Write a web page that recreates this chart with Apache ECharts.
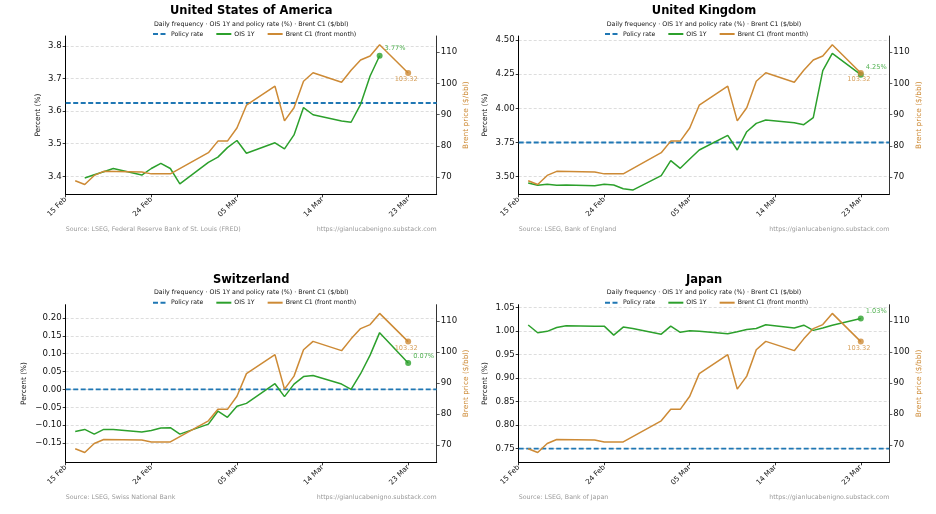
<!DOCTYPE html>
<html><head><meta charset="utf-8">
<script src="https://cdn.jsdelivr.net/npm/echarts@6/dist/echarts.min.js"></script>
<style>html,body{margin:0;padding:0;background:#fff}#c{width:936px;height:514px}</style>
</head><body><div id="c"></div>
<script>
// ---- shared x axis (days after 15 Feb) ----
const tickDays = [0, 9, 18, 27, 36];
const dayLabels = ['15 Feb', '24 Feb', '05 Mar', '14 Mar', '23 Mar'];

// ---- Brent C1 (front month), $/bbl ----
const brentDays = [1,2,3,4,8,9,11,15,16,17,18,19,22,23,24,25,26,29,30,31,32,33,36];
const brent = [68.8,67.6,70.5,71.8,71.6,71.0,71.0,77.8,81.5,81.5,85.7,93.0,99.1,88.0,92.2,100.7,103.4,100.4,104.2,107.5,108.8,112.4,103.32];
const brentTicks = [70, 80, 90, 100, 110];
const brentTickLabels = ['70', '80', '90', '100', '110'];

// ---- OIS 1Y per country ----
const usOisDays = [2,3,4,5,8,9,10,11,12,15,16,17,18,19,22,23,24,25,26,29,30,31,32,33];
const usOis = [3.395,3.405,3.414,3.424,3.404,3.424,3.440,3.424,3.377,3.443,3.459,3.488,3.510,3.471,3.503,3.484,3.527,3.611,3.589,3.570,3.566,3.621,3.708,3.770];
const oisDays = [1,2,3,4,5,8,9,10,11,12,15,16,17,18,19,22,23,24,25,26,29,30,31,32,33,36];
const ukOis = [3.454,3.437,3.444,3.437,3.439,3.434,3.444,3.439,3.412,3.402,3.508,3.617,3.561,3.629,3.695,3.802,3.695,3.829,3.890,3.915,3.895,3.880,3.932,4.276,4.402,4.246];
const chOis = [-0.118,-0.112,-0.125,-0.112,-0.112,-0.119,-0.115,-0.108,-0.107,-0.125,-0.097,-0.061,-0.078,-0.047,-0.039,0.016,-0.020,0.015,0.036,0.039,0.015,0.000,0.044,0.096,0.159,0.074];
const jpOis = [1.0125,0.996,0.999,1.007,1.011,1.010,1.010,0.991,1.008,1.005,0.993,1.010,0.997,1.000,0.999,0.994,0.998,1.003,1.005,1.013,1.006,1.012,1.001,1.006,1.012,1.026];

// ---- policy rates ----
const usPolicy = 3.625, ukPolicy = 3.75, chPolicy = 0.0, jpPolicy = 0.75;

// ---- left-axis ticks ----
const usTicks = [3.4, 3.5, 3.6, 3.7, 3.8];
const usTickLabels = ['3.4', '3.5', '3.6', '3.7', '3.8'];
const ukTicks = [3.5, 3.75, 4.0, 4.25, 4.5];
const ukTickLabels = ['3.50', '3.75', '4.00', '4.25', '4.50'];
const chTicks = [-0.15, -0.10, -0.05, 0.0, 0.05, 0.10, 0.15, 0.20];
const chTickLabels = ['\u22120.15', '\u22120.10', '\u22120.05', '0.00', '0.05', '0.10', '0.15', '0.20'];
const jpTicks = [0.75, 0.80, 0.85, 0.90, 0.95, 1.00, 1.05];
const jpTickLabels = ['0.75', '0.80', '0.85', '0.90', '0.95', '1.00', '1.05'];

// ---- texts ----
const countries = ['United States of America', 'United Kingdom', 'Switzerland', 'Japan'];
const subtitle = 'Daily frequency \u00b7 OIS 1Y and policy rate (%) \u00b7 Brent C1 ($/bbl)';
const sources = ['Source: LSEG, Federal Reserve Bank of St. Louis (FRED)', 'Source: LSEG, Bank of England', 'Source: LSEG, Swiss National Bank', 'Source: LSEG, Bank of Japan'];
const url = 'https://gianlucabenigno.substack.com';
const legendNames = ['Policy rate', 'OIS 1Y', 'Brent C1 (front month)'];

const FONT = 'DejaVu Sans';
const BLUE = '#1f77b4', GREEN = '#2ca02c', ORANGE = '#cd8a35';
const X_MAX = 39;

const panels = [
  {box:[65.7, 36, 371, 158.3], ymin:3.3448, ymax:3.8307, ticks:usTicks, labels:usTickLabels, days:usOisDays, ois:usOis, policy:usPolicy, nameGap:24.5, legendLeft:152},
  {box:[518.7, 36, 370.6, 158.3], ymin:3.371, ymax:4.529, ticks:ukTicks, labels:ukTickLabels, days:oisDays, ois:ukOis, policy:ukPolicy, nameGap:30, legendLeft:604},
  {box:[65.7, 304.7, 371, 157.6], ymin:-0.204, ymax:0.2373, ticks:chTicks, labels:chTickLabels, days:oisDays, ois:chOis, policy:chPolicy, nameGap:38, legendLeft:152},
  {box:[518.7, 304.7, 370.6, 157.6], ymin:0.7211, ymax:1.0555, ticks:jpTicks, labels:jpTickLabels, days:oisDays, ois:jpOis, policy:jpPolicy, nameGap:30, legendLeft:604}
];

function lookup(ticks, labels, v) {
  for (let k = 0; k < ticks.length; k++) if (Math.abs(ticks[k] - v) < 1e-9) return labels[k];
  return '';
}

const grids = [], xAxes = [], yAxes = [], series = [], titles = [], legends = [], graphics = [];
panels.forEach((p, i) => {
  const [x, y, w, h] = p.box;
  grids.push({left:x, top:y, width:w, height:h});
  xAxes.push({
    gridIndex:i, type:'value', min:0, max:X_MAX,
    axisLine:{show:true, onZero:false, lineStyle:{color:'#000', width:1}},
    axisTick:{show:true, customValues:tickDays, length:3, lineStyle:{color:'#000', width:0.8}},
    axisLabel:{customValues:tickDays, rotate:45, fontSize:7.2, color:'#111', fontFamily:FONT, margin:4,
      formatter:v => lookup(tickDays, dayLabels, v)},
    splitLine:{show:false}
  });
  yAxes.push({
    gridIndex:i, type:'value', position:'left', min:p.ymin, max:p.ymax,
    axisLine:{show:true, onZero:false, lineStyle:{color:'#000', width:1}},
    axisTick:{show:true, customValues:p.ticks, length:3, lineStyle:{color:'#000', width:0.8}},
    axisLabel:{customValues:p.ticks, fontSize:8.6, color:'#111', fontFamily:FONT, margin:4,
      formatter:v => lookup(p.ticks, p.labels, v)},
    splitLine:{show:true, lineStyle:{color:'#cfcfcf', width:0.7, type:[3, 2]}},
    name:'Percent (%)', nameLocation:'middle', nameGap:p.nameGap,
    nameTextStyle:{fontSize:7.4, color:'#111', fontFamily:FONT}
  });
  yAxes.push({
    gridIndex:i, type:'value', position:'right', min:64.45, max:115.2,
    axisLine:{show:true, onZero:false, lineStyle:{color:'#333', width:1}},
    axisTick:{show:true, customValues:brentTicks, length:3, lineStyle:{color:'#333', width:0.8}},
    axisLabel:{customValues:brentTicks, fontSize:8.6, color:'#111', fontFamily:FONT, margin:4,
      formatter:v => lookup(brentTicks, brentTickLabels, v)},
    splitLine:{show:false},
    name:'Brent price ($/bbl)', nameLocation:'middle', nameGap:26,
    nameTextStyle:{fontSize:7.4, color:ORANGE, fontFamily:FONT}
  });
  const cx = x + w / 2;
  titles.push({
    text:countries[i], subtext:subtitle, left:cx, textAlign:'center', top:y - 32, itemGap:2, padding:0,
    textStyle:{fontSize:11.5, fontWeight:'bold', color:'#000', fontFamily:FONT, lineHeight:14},
    subtextStyle:{fontSize:6.3, color:'#111', fontFamily:FONT, lineHeight:8}
  });
  legends.push({
    data:legendNames, left:p.legendLeft, top:y - 5, itemWidth:15, itemHeight:6, itemGap:12, padding:0,
    itemStyle:{opacity:0},
    textStyle:{fontSize:6.2, color:'#111', fontFamily:FONT, padding:[0, 0, 0, -2]}
  });
  series.push({
    name:'Policy rate', type:'line', xAxisIndex:i, yAxisIndex:2 * i, symbol:'none', silent:true,
    data:[[0, p.policy], [X_MAX, p.policy]],
    lineStyle:{color:BLUE, width:1.8, type:[5, 2.5]}, itemStyle:{color:BLUE}, z:2
  });
  series.push({
    name:'OIS 1Y', type:'line', xAxisIndex:i, yAxisIndex:2 * i, symbol:'none',
    data:p.days.map((d, k) => [d, p.ois[k]]),
    lineStyle:{color:GREEN, width:1.5}, itemStyle:{color:GREEN}, z:3
  });
  series.push({
    name:'Brent C1 (front month)', type:'line', xAxisIndex:i, yAxisIndex:2 * i + 1, symbol:'none',
    data:brentDays.map((d, k) => [d, brent[k]]),
    lineStyle:{color:ORANGE, width:1.5}, itemStyle:{color:ORANGE}, z:4
  });
  const lastO = p.days.length - 1;
  series.push({
    type:'scatter', xAxisIndex:i, yAxisIndex:2 * i, symbolSize:6, z:5,
    data:[[p.days[lastO], p.ois[lastO]]], itemStyle:{color:GREEN},
    label:{show:true, position:'right', distance:2, offset:[0, -7], color:GREEN, fontSize:6.6, fontFamily:FONT,
      formatter:prm => prm.value[1].toFixed(2) + '%'}
  });
  const lastB = brentDays.length - 1;
  series.push({
    type:'scatter', xAxisIndex:i, yAxisIndex:2 * i + 1, symbolSize:6, z:5,
    data:[[brentDays[lastB], brent[lastB]]], itemStyle:{color:ORANGE},
    label:{show:true, position:'bottom', distance:1, offset:[-2, -1], color:ORANGE, fontSize:6.6, fontFamily:FONT,
      formatter:prm => prm.value[1].toFixed(2)}
  });
  const fy = y + h + 32.5;
  graphics.push({type:'text', left:x, top:fy, style:{text:sources[i], fill:'#999', font:'6.3px "DejaVu Sans"'}});
  graphics.push({type:'text', right:936 - (x + w), top:fy, style:{text:url, fill:'#999', font:'6.3px "DejaVu Sans"'}});
});

const chart = echarts.init(document.getElementById('c'));
chart.setOption({
  animation:false, backgroundColor:'#fff',
  title:titles, legend:legends, grid:grids, xAxis:xAxes, yAxis:yAxes, series:series, graphic:graphics
});
</script></body></html>
